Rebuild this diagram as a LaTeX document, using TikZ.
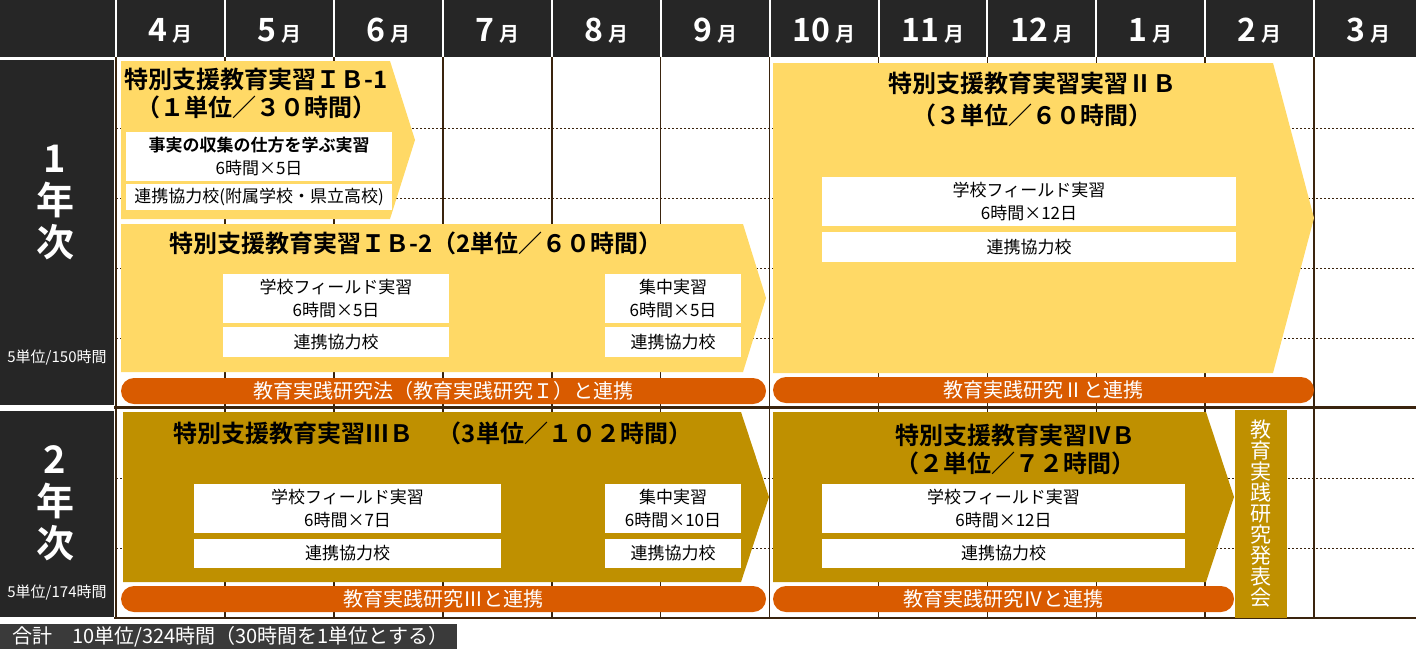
\documentclass[tikz,border=0pt]{standalone}
\usepackage{fontspec}
\setmainfont{Noto Sans CJK JP}[BoldFont={Noto Sans CJK JP Bold}]
\usepackage{tikz}
\definecolor{caldark}{RGB}{38, 38, 38}
\definecolor{calfoot}{RGB}{58, 58, 58}
\definecolor{calgrid}{RGB}{58, 36, 14}
\definecolor{calyellow}{RGB}{255, 217, 102}
\definecolor{calgold}{RGB}{191, 144, 0}
\definecolor{calorange}{RGB}{217, 91, 0}

\begin{document}
\begin{tikzpicture}[x=0.5pt, y=-0.5pt,
  monthlabel/.style={text=white, font=\bfseries\fontsize{16}{16}\selectfont},
  yearlabel/.style={text=white, align=center, font=\bfseries\fontsize{19}{21}\selectfont},
  unitlabel/.style={text=white, font=\fontsize{7.5}{7.5}\selectfont},
  titletext/.style={align=center, font=\bfseries\fontsize{12}{14}\selectfont},
  boxtext/.style={align=center, font=\fontsize{8.5}{11.5}\selectfont},
  bandtext/.style={text=white, font=\fontsize{10}{10}\selectfont}]
\useasboundingbox (0,0) rectangle (1416,655);

% Header row and year column
\fill[caldark] (0,0) rectangle (1416,57);
\fill[caldark] (0,60) rectangle (113.5,405);
\fill[caldark] (0,411) rectangle (113.5,617);
\foreach \m [count=\i from 0] in {4,...,12,1,2,3} {
  \draw[white, line width=1pt] ({116.2+108.9*\i},0) -- ({116.2+108.9*\i},57);
  \node[monthlabel] (month\i) at ({170.6+108.9*\i},31) {\m\,{\fontsize{10}{10}\selectfont 月}};
}

% Grid
\foreach \i in {0,...,12}
  \draw[calgrid, line width=0.75pt] ({116.2+108.9*\i},57) -- ({116.2+108.9*\i},618);
\foreach \y in {128,198,268,338,478,548}
  \draw[calgrid, line width=0.5pt, dash pattern=on 1pt off 1pt] (116,\y) -- (1416,\y);
\draw[calgrid, line width=1.5pt] (114,407) -- (1416,407);
\draw[calgrid, line width=1pt] (114,618) -- (1416,618);

\node[yearlabel] (year1) at (55,202) {1\\年\\次};
\node[unitlabel] (unit1) at (57,358) {5単位/150時間};
\node[yearlabel] (year2) at (55,503) {2\\年\\次};
\node[unitlabel] (unit2) at (57,593) {5単位/174時間};

% 1st year: IB-1
\fill[calyellow] (121,61) -- (390,61) -- (415,140) -- (390,219) -- (121,219) -- cycle;
\node[titletext] (ib1) at (256,93.5) {特別支援教育実習ＩＢ-1\\（１単位／３０時間）};
\fill[white] (126,132) rectangle (392,181);
\node[boxtext] (ib1fact) at (259,156.5) {{\bfseries 事実の収集の仕方を学ぶ実習}\\6時間×5日};
\fill[white] (126,184) rectangle (392,210);
\node[boxtext] (ib1school) at (259,197) {連携協力校(附属学校・県立高校)};

% 1st year: IB-2
\fill[calyellow] (121,224) -- (743,224) -- (766,298) -- (743,372) -- (121,372) -- cycle;
\node[titletext] (ib2) at (416,243) {特別支援教育実習ＩＢ-2（2単位／６０時間）};
\fill[white] (223,274) rectangle (449,323);
\node[boxtext] (ib2field) at (336,298.5) {学校フィールド実習\\6時間×5日};
\fill[white] (223,327) rectangle (449,357);
\node[boxtext] (ib2school) at (336,342) {連携協力校};
\fill[white] (605,274) rectangle (741,323);
\node[boxtext] (ib2camp) at (673,298.5) {集中実習\\6時間×5日};
\fill[white] (605,327) rectangle (741,357);
\node[boxtext] (ib2campschool) at (673,342) {連携協力校};

% 1st year: IIB
\fill[calyellow] (773,63) -- (1273,63) -- (1314,218) -- (1273,373) -- (773,373) -- cycle;
\node[titletext, font=\bfseries\fontsize{12}{16}\selectfont] (iib) at (1032,99) {特別支援教育実習実習ⅡＢ\\（３単位／６０時間）};
\fill[white] (822,177) rectangle (1236,226);
\node[boxtext] (iibfield) at (1029,201.5) {学校フィールド実習\\6時間×12日};
\fill[white] (822,232) rectangle (1236,262);
\node[boxtext] (iibschool) at (1029,247) {連携協力校};

% 1st year: links
\fill[calorange, rounded corners=6.5pt] (121,378) rectangle (766,404);
\node[bandtext] (link1) at (443.5,391) {教育実践研究法（教育実践研究Ｉ）と連携};
\fill[calorange, rounded corners=6.5pt] (773,377) rectangle (1314,403);
\node[bandtext] (link2) at (1043.5,390) {教育実践研究Ⅱと連携};

% 2nd year: IIIB
\fill[calgold] (123,412) -- (741,412) -- (769,497) -- (741,582) -- (123,582) -- cycle;
\node[titletext] (iiib) at (433,433) {特別支援教育実習ⅢＢ　（3単位／１０２時間）};
\fill[white] (194,484) rectangle (501,533);
\node[boxtext] (iiibfield) at (347.5,508.5) {学校フィールド実習\\6時間×7日};
\fill[white] (194,539) rectangle (501,568);
\node[boxtext] (iiibschool) at (347.5,553.5) {連携協力校};
\fill[white] (605,484) rectangle (741,533);
\node[boxtext] (iiibcamp) at (673,508.5) {集中実習\\6時間×10日};
\fill[white] (605,539) rectangle (741,568);
\node[boxtext] (iiibcampschool) at (673,553.5) {連携協力校};

% 2nd year: IVB
\fill[calgold] (773,412) -- (1206,412) -- (1234,497) -- (1206,582) -- (773,582) -- cycle;
\node[titletext] (ivb) at (1015,449) {特別支援教育実習ⅣＢ\\（２単位／７２時間）};
\fill[white] (822,484) rectangle (1185,533);
\node[boxtext] (ivbfield) at (1003.5,508.5) {学校フィールド実習\\6時間×12日};
\fill[white] (822,539) rectangle (1185,568);
\node[boxtext] (ivbschool) at (1003.5,553.5) {連携協力校};

% 2nd year: links and presentation
\fill[calorange, rounded corners=6.5pt] (121,586) rectangle (766,612);
\node[bandtext] (link3) at (443.5,599) {教育実践研究Ⅲと連携};
\fill[calorange, rounded corners=6.5pt] (773,586) rectangle (1234,612);
\node[bandtext] (link4) at (1003.5,599) {教育実践研究Ⅳと連携};
\fill[calgold] (1234.5,410) rectangle (1287,618);
\node[text=white, align=center, font=\fontsize{10.5}{10.5}\selectfont] (talk) at (1260.5,514) {教\\育\\実\\践\\研\\究\\発\\表\\会};

% Total
\fill[calfoot] (0,624) rectangle (457,649);
\node[bandtext, anchor=west] (total) at (5,636.5) {合計　10単位/324時間（30時間を1単位とする）};
\end{tikzpicture}
\end{document}
